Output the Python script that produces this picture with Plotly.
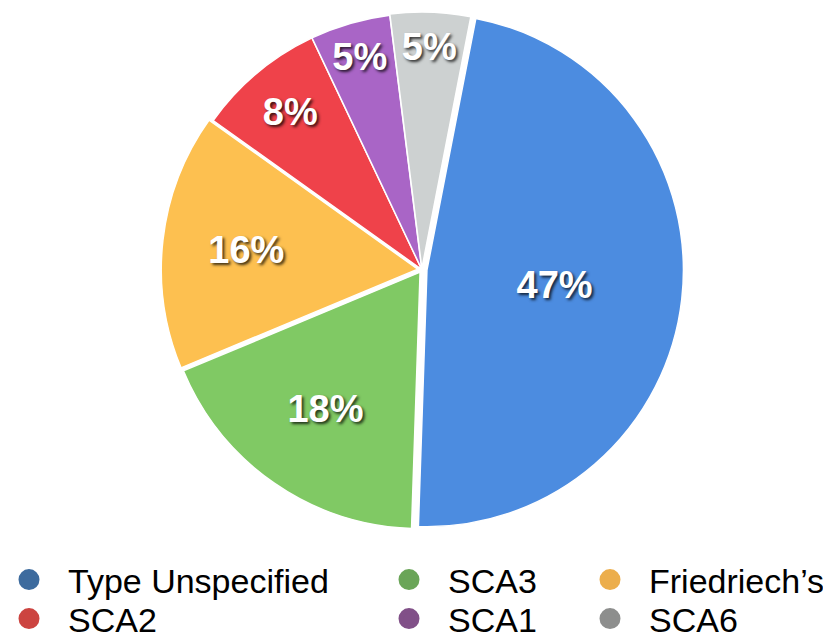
import plotly.graph_objects as go

categories = ["Type Unspecified", "SCA3", "Friedriech’s", "SCA2", "SCA1", "SCA6"]
values = [47, 18, 16, 8, 5, 5]
slice_colors = ["#4c8ce0", "#80c964", "#fdc050", "#ef424a", "#a965c6", "#cdd1d1"]
legend_colors = ["#3d6b9e", "#6aa558", "#ecae4c", "#cc4440", "#815088", "#8d8e8d"]
pulls = [0.02, 0.012, 0.016, 0.0, 0.0, 0.004]

# legend layout (3 columns x 2 rows)
legend_text_x = [70, 450, 651]
legend_row_y = [572, 611]
W, H = 831, 642
ITEM_W = 68

fig = go.Figure()
fig.add_trace(go.Pie(
    labels=categories,
    values=values,
    sort=False,
    direction="clockwise",
    rotation=11,
    pull=pulls,
    marker=dict(colors=slice_colors, line=dict(color="white", width=1.5)),
    texttemplate="%{value}%",
    textposition="inside",
    insidetextorientation="horizontal",
    textfont=dict(family="Liberation Sans, Arial, sans-serif", size=38, color="white",
                  weight="bold", shadow="2px 2px 3px rgba(0,0,0,0.75)"),
    hoverinfo="label+percent",
    showlegend=False,
    domain=dict(x=[0.0, 0.996], y=[0.185, 1.0]),
))

layout_legends = {}
for i, (cat, col) in enumerate(zip(categories, legend_colors)):
    name = "legend" if i == 0 else f"legend{i + 1}"
    c, r = i % 3, i // 3
    fig.add_trace(go.Scatter(
        x=[None], y=[None], mode="markers", name=cat,
        marker=dict(color=col, size=30, symbol="circle", line=dict(color=col, width=5)),
        legend=name, showlegend=True,
    ))
    layout_legends[name] = dict(
        x=(legend_text_x[c] - ITEM_W - 20) / W, xanchor="left",
        y=1 - legend_row_y[r] / H, yanchor="middle",
        bgcolor="rgba(0,0,0,0)", borderwidth=0, itemwidth=ITEM_W,
        font=dict(family="Liberation Sans, Arial, sans-serif", size=34, color="black"),
        itemclick=False, itemdoubleclick=False,
    )

fig.update_layout(
    width=W, height=H,
    margin=dict(l=0, r=0, t=0, b=0, autoexpand=False),
    paper_bgcolor="white", plot_bgcolor="white",
    xaxis=dict(visible=False), yaxis=dict(visible=False),
    **layout_legends,
)

fig.write_html("out.html")
